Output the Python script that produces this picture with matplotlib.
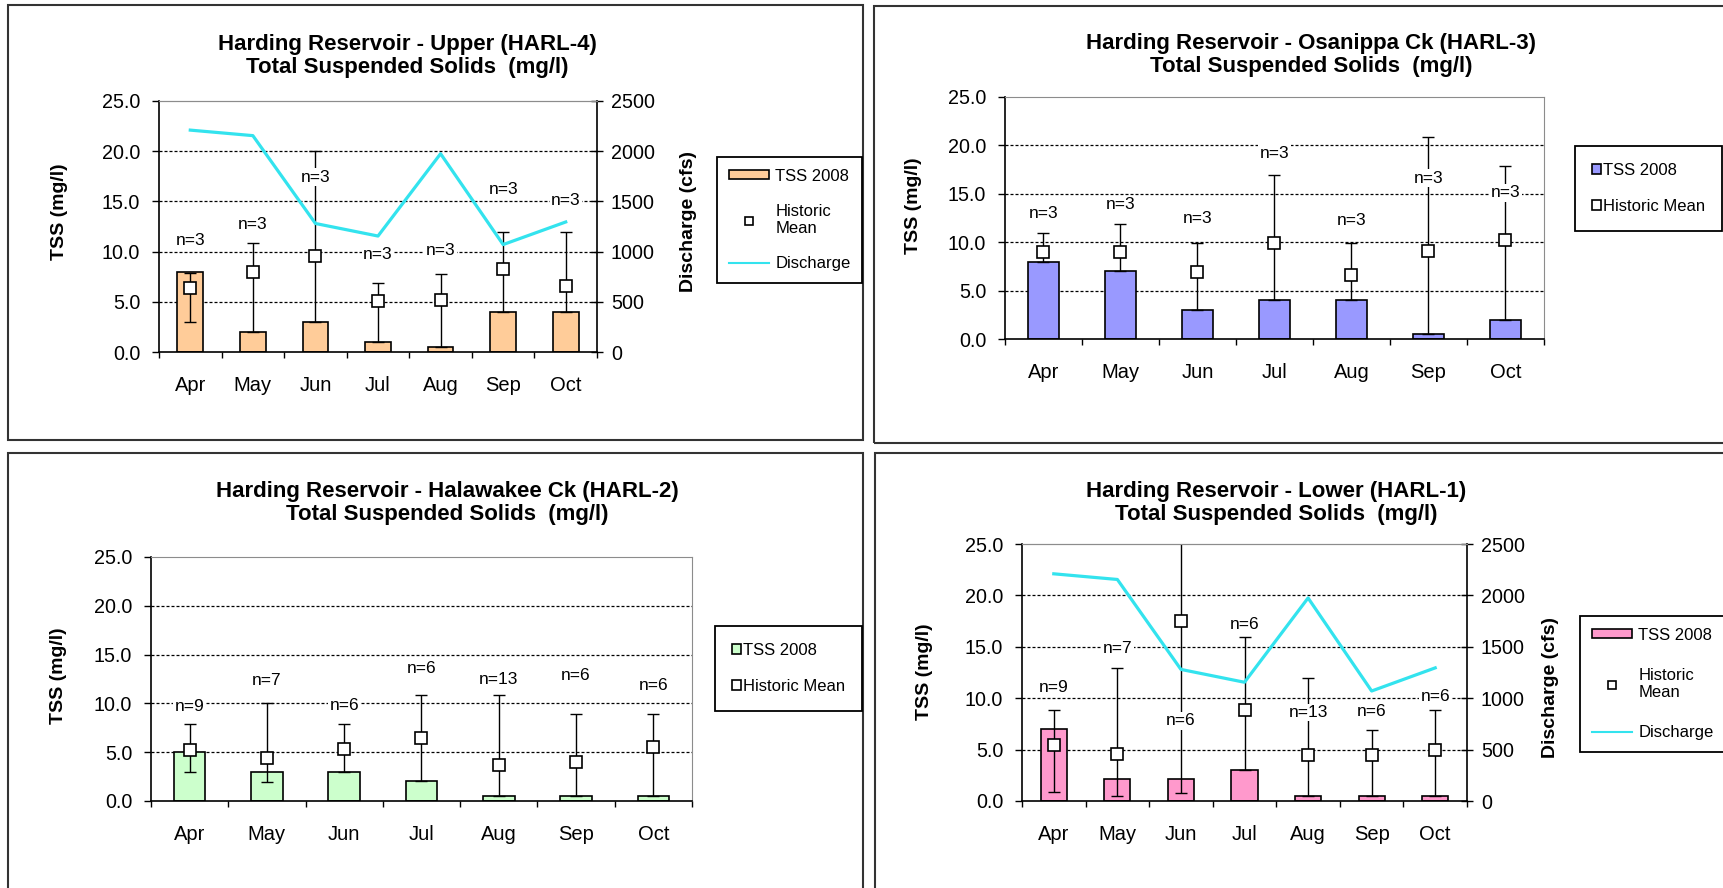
import numpy as np
import matplotlib
matplotlib.use("Agg")
import matplotlib.pyplot as plt
from matplotlib.lines import Line2D
from matplotlib.patches import Patch, Rectangle
from matplotlib.ticker import FormatStrFormatter

plt.rcParams["font.family"] = ["Liberation Sans", "DejaVu Sans"]

# ---- data ----
MONTHS = ["Apr", "May", "Jun", "Jul", "Aug", "Sep", "Oct"]
DISCHARGE = [2210, 2155, 1280, 1155, 1975, 1070, 1295]   # cfs

# HARL-4 (Upper)
HARL4_TSS = [8.0, 2.0, 3.0, 1.0, 0.5, 4.0, 4.0]
HARL4_MEAN = [6.4, 8.0, 9.6, 5.1, 5.2, 8.3, 6.6]
HARL4_LO = [3.0, 2.0, 3.0, 1.0, 0.5, 4.0, 4.0]
HARL4_HI = [7.9, 10.9, 20.0, 6.9, 7.8, 12.0, 12.0]
HARL4_N = [3, 3, 3, 3, 3, 3, 3]

# HARL-3 (Osanippa Ck)
HARL3_TSS = [8.0, 7.0, 3.0, 4.0, 4.0, 0.5, 2.0]
HARL3_MEAN = [9.0, 9.0, 6.9, 9.9, 6.6, 9.1, 10.2]
HARL3_LO = [8.0, 7.0, 3.0, 4.0, 4.0, 0.5, 2.0]
HARL3_HI = [11.0, 11.9, 9.9, 16.9, 9.9, 20.9, 17.9]
HARL3_N = [3, 3, 3, 3, 3, 3, 3]

# HARL-2 (Halawakee Ck)
HARL2_TSS = [5.0, 3.0, 3.0, 2.0, 0.5, 0.5, 0.5]
HARL2_MEAN = [5.2, 4.4, 5.3, 6.5, 3.7, 4.0, 5.5]
HARL2_LO = [3.0, 1.9, 3.0, 2.0, 0.5, 0.5, 0.5]
HARL2_HI = [7.9, 10.0, 7.9, 10.9, 10.9, 8.9, 8.9]
HARL2_N = [9, 7, 6, 6, 13, 6, 6]

# HARL-1 (Lower)
HARL1_TSS = [7.0, 2.1, 2.1, 3.0, 0.5, 0.5, 0.5]
HARL1_MEAN = [5.4, 4.6, 17.5, 8.9, 4.5, 4.5, 5.0]
HARL1_LO = [0.9, 0.5, 0.8, 3.0, 0.5, 0.5, 0.5]
HARL1_HI = [8.9, 12.9, 28.0, 16.0, 12.0, 6.9, 8.9]
HARL1_N = [9, 7, 6, 6, 13, 6, 6]

# ---- layout (pixels of the 1724x888 canvas) ----
W, H = 1724, 888
CYAN = "#33E3EE"
GRID_DASH = (0, (2.4, 1.6))
TOP_GRAY = "#8C8C8C"

# where the "n=" labels sit, in TSS units
HARL4_NPOS = [11.1, 12.7, 17.4, 9.7, 10.1, 16.2, 15.1]
HARL3_NPOS = [13.0, 13.9, 12.5, 19.2, 12.2, 16.6, 15.1]
HARL2_NPOS = [9.65, 12.3, 9.8, 13.6, 12.45, 12.9, 11.8]
HARL1_NPOS = [11.0, 14.8, 7.8, 17.2, 8.6, 8.7, 10.15]


def fx(x):
    return x / W


def fy(y):
    return 1 - y / H


def px_rect(x0, y0, x1, y1):
    return [x0 / W, 1 - y1 / H, (x1 - x0) / W, (y1 - y0) / H]


def draw_panel(fig, rect, tss, mean, lo, hi, nvals, npos, color,
               discharge=None):
    ax = fig.add_axes(px_rect(*rect))
    x = np.arange(len(MONTHS))
    ax.set_xlim(-0.5, len(MONTHS) - 0.5)
    ax.set_ylim(0, 25)

    for g in (5, 10, 15, 20):
        ax.axhline(g, color="black", lw=0.9, ls=GRID_DASH, zorder=1)

    ax.bar(x, tss, width=0.41, color=color, edgecolor="black",
           linewidth=1.2, zorder=2)

    mean = np.asarray(mean)
    yerr = [mean - np.asarray(lo), np.asarray(hi) - mean]
    ax.errorbar(x, mean, yerr=yerr, fmt="none", ecolor="black",
                elinewidth=1.0, capsize=4.3, capthick=1.0, zorder=3)
    ax.plot(x, mean, ls="none", marker="s", ms=8, mfc="white",
            mec="black", mew=1.2, zorder=4)

    for xi, n, yp in zip(x, nvals, npos):
        ax.text(xi, yp, f"n={n}", ha="center", va="center",
                fontsize=12.5, zorder=5,
                bbox=dict(facecolor="white", edgecolor="none", pad=1.0))

    for side in ("left", "bottom"):
        ax.spines[side].set_color("black")
        ax.spines[side].set_linewidth(1.2)
    ax.spines["top"].set_color(TOP_GRAY)
    ax.spines["right"].set_color(TOP_GRAY)

    ax.set_yticks(np.arange(0, 26, 5))
    ax.yaxis.set_major_formatter(FormatStrFormatter("%.1f"))
    ax.tick_params(axis="y", direction="out", length=5, width=1,
                   labelsize=14.2, pad=8.5, right=False)
    ax.set_xticks(np.arange(-0.5, len(MONTHS), 1))
    ax.tick_params(axis="x", which="major", direction="out", length=4,
                   width=1, labelbottom=False)
    ax.set_xticks(x, minor=True)
    ax.set_xticklabels(MONTHS, minor=True)
    ax.tick_params(axis="x", which="minor", length=0, pad=17.5,
                   labelsize=14.5)

    if discharge is not None:
        tw = ax.twinx()
        tw.set_ylim(0, 2500)
        tw.set_yticks(np.arange(0, 2501, 500))
        tw.plot(x, discharge, color=CYAN, lw=2.3, zorder=6)
        tw.tick_params(axis="y", direction="inout", length=8, width=1,
                       labelsize=14.2, pad=6)
        ax.spines["right"].set_visible(False)
        tw.spines["left"].set_visible(False)
        tw.spines["bottom"].set_visible(False)
        tw.spines["top"].set_color(TOP_GRAY)
        tw.spines["right"].set_color("black")
        tw.spines["right"].set_linewidth(1.2)
    return ax


def legend_full(fig, x0, y0, color, labelspacing):
    handles = [
        Patch(facecolor=color, edgecolor="black", linewidth=1.2),
        Line2D([], [], ls="none", marker="s", ms=6, mfc="white",
               mec="black", mew=1.2),
        Line2D([], [], color=CYAN, lw=1.5),
    ]
    leg = fig.legend(handles, ["TSS 2008", "Historic\nMean", "Discharge"],
                     loc="upper left", bbox_to_anchor=(fx(x0), fy(y0)),
                     borderaxespad=0, fontsize=12, handlelength=2.4,
                     handleheight=0.45, handletextpad=0.4, borderpad=0.7,
                     labelspacing=labelspacing, fancybox=False,
                     edgecolor="black", framealpha=1)
    leg.get_frame().set_linewidth(1.3)


def legend_small(fig, x0, y0, color):
    handles = [
        Patch(facecolor=color, edgecolor="black", linewidth=1.2),
        Patch(facecolor="white", edgecolor="black", linewidth=1.2),
    ]
    leg = fig.legend(handles, ["TSS 2008", "Historic Mean"],
                     loc="upper left", bbox_to_anchor=(fx(x0), fy(y0)),
                     borderaxespad=0, fontsize=12, handlelength=0.55,
                     handleheight=0.55, handletextpad=0.15, borderpad=1.0,
                     labelspacing=1.3, fancybox=False, edgecolor="black",
                     framealpha=1)
    leg.get_frame().set_linewidth(1.3)


def panel_frame(fig, x0, y0, x1, y1):
    fig.add_artist(Rectangle((fx(x0), fy(y1)), (x1 - x0) / W,
                             (y1 - y0) / H, transform=fig.transFigure,
                             fill=False, edgecolor="#333333", lw=1.5))


def title(fig, cx, cy, name):
    fig.text(fx(cx), fy(cy),
             f"Harding Reservoir - {name}\nTotal Suspended Solids  (mg/l)",
             ha="center", va="center", fontsize=16, fontweight="bold",
             linespacing=1.1)


def ylabel(fig, cx, cy, text):
    fig.text(fx(cx), fy(cy), text, rotation=90, ha="center", va="center",
             fontsize=14, fontweight="bold")


fig = plt.figure(figsize=(W / 100, H / 100), dpi=100)
fig.patch.set_facecolor("white")

panel_frame(fig, 8, 5, 863, 440)
panel_frame(fig, 874, 6, 1732, 443)
panel_frame(fig, 8, 453, 863, 896)
panel_frame(fig, 875, 453, 1732, 896)

# top left: HARL-4
draw_panel(fig, (159, 101, 597, 352), HARL4_TSS, HARL4_MEAN, HARL4_LO,
           HARL4_HI, HARL4_N, HARL4_NPOS, "#FFCC99", DISCHARGE)
title(fig, 407, 56, "Upper (HARL-4)")
ylabel(fig, 60, 212, "TSS (mg/l)")
ylabel(fig, 689, 221, "Discharge (cfs)")
legend_full(fig, 717, 157, "#FFCC99", 1.2)

# top right: HARL-3
draw_panel(fig, (1005, 97, 1544, 339), HARL3_TSS, HARL3_MEAN, HARL3_LO,
           HARL3_HI, HARL3_N, HARL3_NPOS, "#9999FF")
title(fig, 1311, 55, "Osanippa Ck (HARL-3)")
ylabel(fig, 914, 206, "TSS (mg/l)")
legend_small(fig, 1575, 146, "#9999FF")

# bottom left: HARL-2
draw_panel(fig, (151, 557, 692, 801), HARL2_TSS, HARL2_MEAN, HARL2_LO,
           HARL2_HI, HARL2_N, HARL2_NPOS, "#CCFFCC")
title(fig, 447, 503, "Halawakee Ck (HARL-2)")
ylabel(fig, 59, 676, "TSS (mg/l)")
legend_small(fig, 715, 626, "#CCFFCC")

# bottom right: HARL-1
draw_panel(fig, (1022, 544, 1467, 801), HARL1_TSS, HARL1_MEAN, HARL1_LO,
           HARL1_HI, HARL1_N, HARL1_NPOS, "#FF99CC", DISCHARGE)
title(fig, 1276, 503, "Lower (HARL-1)")
ylabel(fig, 925, 672, "TSS (mg/l)")
ylabel(fig, 1551, 688, "Discharge (cfs)")
legend_full(fig, 1580, 616, "#FF99CC", 1.5)

fig.savefig("out.png", dpi=100)
plt.close(fig)
